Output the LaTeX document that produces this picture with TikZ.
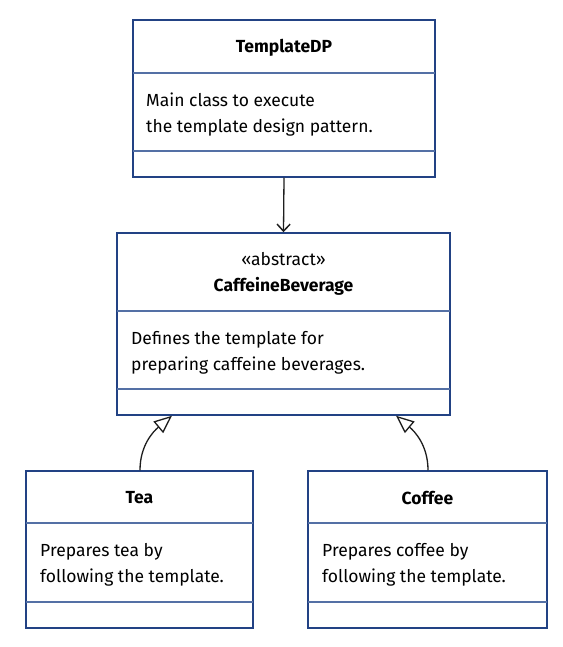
\documentclass[tikz,border=0pt]{standalone}
\usepackage{fontspec}
\setmainfont{Fira Sans}
\usetikzlibrary{arrows.meta}
\definecolor{bordc}{RGB}{34,66,132}
\definecolor{divc}{RGB}{84,112,165}
\definecolor{linec}{RGB}{30,30,30}
\tikzset{
  classbox/.style={draw=bordc, line width=1.5pt, rectangle, inner sep=0pt, fill=none},
  divline/.style={draw=divc, line width=1.2pt},
  titletext/.style={font=\fontsize{17.5}{20}\selectfont\bfseries, inner sep=0pt},
  stereo/.style={font=\fontsize{17.5}{20}\selectfont, inner sep=0pt},
  bodytext/.style={font=\fontsize{17.5}{26}\selectfont, align=left, inner sep=0pt, anchor=west},
  depend/.style={draw=linec, line width=1.3pt, -{Straight Barb[length=7pt,width=13pt,line width=1.5pt]}},
  inherit/.style={draw=linec, line width=1.3pt, -{Triangle[open,length=18pt,width=15pt,line width=1.3pt,fill=white]}}
}
\begin{document}
\begin{tikzpicture}[x=1pt,y=-1pt]
\useasboundingbox[fill=white] (0,0) rectangle (562,647);
% TemplateDP
\node[classbox, minimum width=302pt, minimum height=157pt] (tdp) at (284,98.5) {};
\draw[divline] (133,73) -- (435,73);
\draw[divline] (133,151) -- (435,151);
\node[titletext] (tdpt) at (284,48) {TemplateDP};
\node[bodytext] (tdpb) at (146,114.5) {Main class to execute\\the template design pattern.};
% CaffeineBeverage
\node[classbox, minimum width=333pt, minimum height=182pt] (caff) at (283.5,324) {};
\draw[divline] (117,311) -- (450,311);
\draw[divline] (117,389) -- (450,389);
\node[stereo] (caffs) at (283.5,259.5) {«abstract»};
\node[titletext] (cafft) at (283.5,286) {CaffeineBeverage};
\node[bodytext] (caffb) at (131,352.5) {Defines the template for\\preparing caffeine beverages.};
% Tea
\node[classbox, minimum width=227pt, minimum height=157pt] (tea) at (139.5,549.5) {};
\draw[divline] (26,523) -- (253,523);
\draw[divline] (26,602) -- (253,602);
\node[titletext] (teat) at (139.5,498) {Tea};
\node[bodytext] (teab) at (40,564.5) {Prepares tea by\\following the template.};
% Coffee
\node[classbox, minimum width=239pt, minimum height=157pt] (cof) at (427.5,549.5) {};
\draw[divline] (308,523) -- (547,523);
\draw[divline] (308,602) -- (547,602);
\node[titletext] (coft) at (427.5,498) {Coffee};
\node[bodytext] (cofb) at (322,564.5) {Prepares coffee by\\following the template.};
% connectors
\draw[depend] (tdp.south) -- (caff.north);
\draw[inherit] ([xshift=0.5pt]tea.north) to[out=90,in=220] ([xshift=-111.5pt]caff.south);
\draw[inherit] ([xshift=0.5pt]cof.north) to[out=90,in=-40] ([xshift=112.5pt]caff.south);
\end{tikzpicture}
\end{document}
